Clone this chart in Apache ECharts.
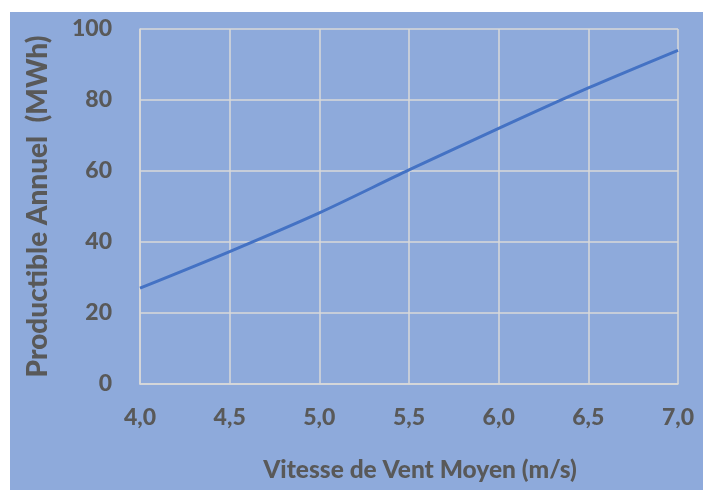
<!DOCTYPE html>
<html>
<head>
<meta charset="utf-8">
<script src="https://cdn.jsdelivr.net/npm/echarts@6/dist/echarts.min.js"></script>
<style>
  html, body { margin: 0; padding: 0; background: #fff; }
  #chart { width: 703px; height: 490px; }
</style>
</head>
<body>
<div id="chart"></div>
<script>
// vitesse moyenne (m/s) et productible annuel (MWh)
const vitesses = [4.0, 4.5, 5.0, 5.5, 6.0, 6.5, 7.0]
const productible = [27.0, 37.3, 48.2, 60.3, 72.0, 83.4, 94.0]

const textColor = '#595959'
const gridColor = '#d9d9d9'
const fontFam = 'Lato, "Open Sans", sans-serif'

const chart = echarts.init(document.getElementById('chart'))
const option = {
  backgroundColor: '#ffffff',
  animation: false,
  graphic: [
    {
      type: 'rect',
      z: -10,
      silent: true,
      shape: { x: 10, y: 12, width: 693, height: 478 },
      style: { fill: '#8eaadb' }
    }
  ],
  grid: {
    left: 140,
    right: 25,
    top: 29,
    bottom: 106,
    outerBoundsMode: 'none'
  },
  xAxis: {
    type: 'value',
    min: 4,
    max: 7,
    interval: 0.5,
    name: 'Vitesse de Vent Moyen (m/s)',
    nameLocation: 'middle',
    nameGap: 74,
    nameTextStyle: {
      color: textColor,
      fontFamily: fontFam,
      fontWeight: 900,
      fontSize: 24.5,
      padding: [0, 0, 0, 22]
    },
    axisLine: { lineStyle: { color: gridColor, width: 1.5 } },
    axisTick: { show: false },
    axisLabel: {
      color: textColor,
      fontFamily: fontFam,
      fontWeight: 900,
      fontSize: 23,
      margin: 22,
      formatter: v => v.toFixed(1).replace('.', ',')
    },
    splitLine: { show: true, lineStyle: { color: gridColor, width: 1.5 } }
  },
  yAxis: {
    type: 'value',
    min: 0,
    max: 100,
    interval: 20,
    name: 'Productible Annuel  (MWh)',
    nameLocation: 'middle',
    nameGap: 88,
    nameTextStyle: {
      color: textColor,
      fontFamily: fontFam,
      fontWeight: 900,
      fontSize: 28
    },
    axisLine: { show: true, lineStyle: { color: gridColor, width: 1.5 } },
    axisTick: { show: false },
    axisLabel: {
      color: textColor,
      fontFamily: fontFam,
      fontWeight: 900,
      fontSize: 23,
      margin: 28
    },
    splitLine: { show: true, lineStyle: { color: gridColor, width: 1.5 } }
  },
  series: [
    {
      type: 'line',
      data: vitesses.map((v, i) => [v, productible[i]]),
      smooth: 0.3,
      showSymbol: false,
      lineStyle: { color: '#4472c4', width: 3 }
    }
  ]
}
chart.setOption(option)
</script>
</body>
</html>
